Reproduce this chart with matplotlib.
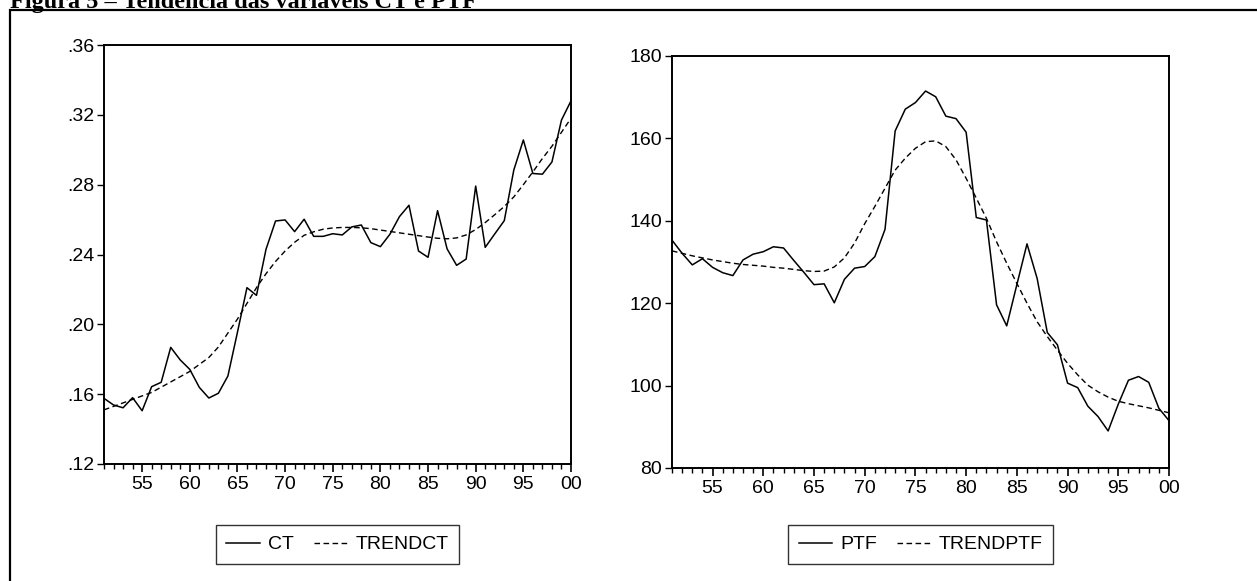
import numpy as np
import matplotlib
matplotlib.use("Agg")
import matplotlib.pyplot as plt
from matplotlib.patches import Rectangle
from matplotlib.ticker import FixedLocator, FuncFormatter

plt.rcParams['font.family'] = ['Liberation Sans', 'DejaVu Sans']

years = np.arange(1951, 2001)

ct = [0.1576, 0.1538, 0.1522, 0.1580, 0.1505, 0.1643, 0.1668, 0.1868, 0.1796, 0.1742,
      0.1639, 0.1578, 0.1605, 0.1704, 0.1954, 0.2210, 0.2166, 0.2430, 0.2592, 0.2598,
      0.2531, 0.2602, 0.2504, 0.2504, 0.2519, 0.2512, 0.2558, 0.2569, 0.2468, 0.2445,
      0.2516, 0.2617, 0.2682, 0.2420, 0.2384, 0.2651, 0.2432, 0.2338, 0.2374, 0.2792,
      0.2441, 0.2518, 0.2594, 0.2884, 0.3056, 0.2864, 0.2860, 0.2930, 0.3170, 0.3280]

trend_ct = [0.151, 0.153, 0.155, 0.157, 0.159, 0.161, 0.164, 0.167, 0.170, 0.173,
            0.177, 0.181, 0.187, 0.195, 0.203, 0.212, 0.221, 0.229, 0.236, 0.242,
            0.247, 0.251, 0.253, 0.2545, 0.2552, 0.2555, 0.2555, 0.2553, 0.2548, 0.2540,
            0.2532, 0.2524, 0.2516, 0.2508, 0.2500, 0.2493, 0.2490, 0.2495, 0.2512, 0.2543,
            0.2583, 0.2628, 0.2675, 0.2730, 0.2800, 0.2873, 0.2950, 0.3020, 0.3100, 0.3180]

ptf = [135.3, 132.1, 129.3, 130.8, 128.7, 127.4, 126.7, 130.5, 131.9, 132.5,
       133.7, 133.4, 130.4, 127.5, 124.5, 124.7, 120.1, 125.8, 128.5, 128.9,
       131.3, 137.9, 161.8, 167.1, 168.7, 171.5, 170.1, 165.4, 164.8, 161.5,
       140.8, 140.2, 119.6, 114.5, 124.5, 134.4, 126.0, 112.9, 109.9, 100.6,
       99.5, 95.0, 92.5, 89.0, 95.5, 101.3, 102.2, 100.8, 94.5, 91.5]

trend_ptf = [132.7, 132.1, 131.5, 131.0, 130.5, 130.1, 129.7, 129.4, 129.2, 129.0,
             128.7, 128.5, 128.2, 127.9, 127.7, 127.8, 128.8, 131.0, 134.6, 139.3,
             143.5, 147.9, 152.3, 155.2, 157.6, 159.2, 159.4, 158.0, 154.8, 150.3,
             145.5, 140.6, 134.9, 129.7, 124.8, 120.0, 115.5, 111.9, 108.6, 105.4,
             102.6, 100.1, 98.5, 97.2, 96.2, 95.6, 95.1, 94.6, 94.0, 93.4]

ct_ticks = [0.12, 0.16, 0.20, 0.24, 0.28, 0.32, 0.36]
ptf_ticks = [80, 100, 120, 140, 160, 180]
year_ticks = list(range(1955, 2001, 5))

W, H = 1257, 581
fig = plt.figure(figsize=(W / 100, H / 100), dpi=100)


def px_axes(x0, y0, x1, y1):
    return fig.add_axes([x0 / W, 1 - y1 / H, (x1 - x0) / W, (y1 - y0) / H])


def style_axes(ax, yticks, yfmt):
    ax.set_xlim(1951, 2000)
    ax.set_ylim(yticks[0], yticks[-1])
    ax.xaxis.set_major_locator(FixedLocator(year_ticks))
    ax.xaxis.set_minor_locator(FixedLocator(list(range(1951, 2001))))
    ax.xaxis.set_major_formatter(FuncFormatter(lambda v, p: f"{int(round(v)) % 100:02d}"))
    ax.yaxis.set_major_locator(FixedLocator(yticks))
    ax.yaxis.set_major_formatter(FuncFormatter(yfmt))
    ax.tick_params(axis='x', which='major', direction='out', length=5.5, width=1.2,
                   labelsize=14, pad=3)
    ax.tick_params(axis='x', which='minor', direction='out', length=3.8, width=1.0)
    ax.tick_params(axis='y', which='major', direction='out', length=5, width=1.0,
                   labelsize=14, pad=2)
    for s in ax.spines.values():
        s.set_linewidth(1.4)


ax1 = px_axes(104, 45, 571, 464)
l1, = ax1.plot(years, ct, color='black', lw=1.1)
l2, = ax1.plot(years, trend_ct, color='black', lw=1.0, ls=(0, (4, 2.5)))
style_axes(ax1, ct_ticks, lambda v, p: f"{v:.2f}".lstrip('0'))

ax2 = px_axes(672, 56, 1169, 468)
l3, = ax2.plot(years, ptf, color='black', lw=1.1)
l4, = ax2.plot(years, trend_ptf, color='black', lw=1.0, ls=(0, (4, 2.5)))
style_axes(ax2, ptf_ticks, lambda v, p: f"{int(v)}")

for handles, labels, cx in [([l1, l2], ['CT', 'TRENDCT'], 337.5),
                            ([l3, l4], ['PTF', 'TRENDPTF'], 920.5)]:
    leg = fig.legend(handles, labels, loc='upper center',
                     bbox_to_anchor=(cx / W, 1 - 525 / H), bbox_transform=fig.transFigure,
                     ncol=2, fontsize=14, frameon=True, fancybox=False,
                     edgecolor='black', handlelength=1.7, handletextpad=0.45,
                     columnspacing=1.0, borderpad=0.55, borderaxespad=0)
    leg.get_frame().set_linewidth(1.0)

# outer frame, cut at the right and bottom edges
fig.add_artist(Rectangle((10 / W, -0.05), 1.1, 1 - 10 / H + 0.05, transform=fig.transFigure,
                         fill=False, edgecolor='black', lw=1.6))

fig.text(10 / W, 1 - 8 / H, "Figura 5 – Tendência das variáveis CT e PTF",
         family='Liberation Serif', weight='bold', fontsize=17.5,
         ha='left', va='baseline')

fig.savefig('out.png', dpi=100)
